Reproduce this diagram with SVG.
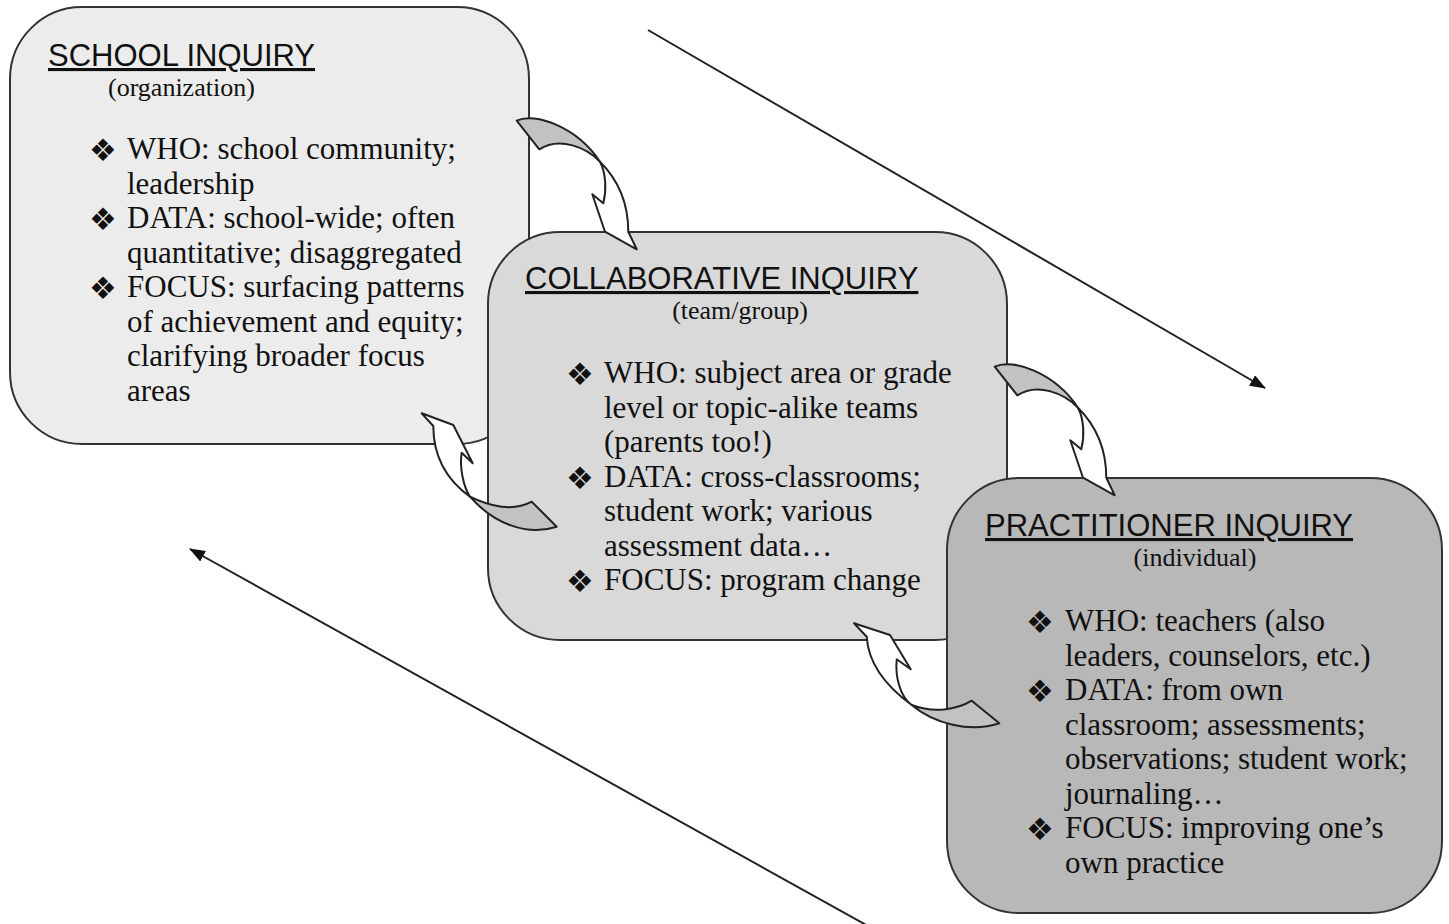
<svg xmlns="http://www.w3.org/2000/svg" width="1449" height="924" viewBox="0 0 1449 924">
  <style>
    .box { stroke: #333; stroke-width: 2; }
    .title { font-family: "Liberation Sans", Arial, sans-serif; font-size: 31px; fill: #111; text-decoration: underline; }
    .sub { font-family: "Liberation Serif", "Times New Roman", serif; font-size: 26px; fill: #111; }
    .body { font-family: "Liberation Serif", "Times New Roman", serif; font-size: 31px; fill: #111; }
    .bul { font-family: "DejaVu Sans", sans-serif; font-size: 31px; fill: #111; }
    .flow { stroke: #222; stroke-width: 2; fill: none; }
    .ribbon { stroke: #222; stroke-width: 2; stroke-linejoin: round; }
    .front { fill: #ffffff; }
    .back { fill: #c2c2c2; }
  </style>
  <defs>
    <marker id="head" viewBox="0 0 16 12" refX="15" refY="6" markerWidth="16" markerHeight="12" markerUnits="userSpaceOnUse" orient="auto">
      <path d="M0,0 L16,6 L0,12 Z" fill="#111"/>
    </marker>
  </defs>
  <rect width="1449" height="924" fill="#ffffff"/>

  <!-- school level -->
  <g id="school-inquiry">
    <rect class="box" x="10" y="7" width="519" height="437" rx="72" ry="72" fill="#ececec"/>
    <text class="title" x="48" y="66">SCHOOL INQUIRY</text>
    <text class="sub" x="108" y="96">(organization)</text>
    <text class="bul" x="89" y="161">❖</text>
    <text class="bul" x="89" y="230">❖</text>
    <text class="bul" x="89" y="299">❖</text>
    <text class="body" x="127" y="159">WHO: school community;</text>
    <text class="body" x="127" y="194">leadership</text>
    <text class="body" x="127" y="228">DATA: school-wide; often</text>
    <text class="body" x="127" y="263">quantitative; disaggregated</text>
    <text class="body" x="127" y="297">FOCUS: surfacing patterns</text>
    <text class="body" x="127" y="332">of achievement and equity;</text>
    <text class="body" x="127" y="366">clarifying broader focus</text>
    <text class="body" x="127" y="401">areas</text>
  </g>

  <!-- team level -->
  <g id="collaborative-inquiry">
    <rect class="box" x="488" y="232" width="519" height="408" rx="72" ry="72" fill="#d9d9d9"/>
    <text class="title" x="525" y="289">COLLABORATIVE INQUIRY</text>
    <text class="sub" x="740" y="319" text-anchor="middle">(team/group)</text>
    <text class="bul" x="566" y="385">❖</text>
    <text class="bul" x="566" y="489">❖</text>
    <text class="bul" x="566" y="592">❖</text>
    <text class="body" x="604" y="383">WHO: subject area or grade</text>
    <text class="body" x="604" y="418">level or topic-alike teams</text>
    <text class="body" x="604" y="452">(parents too!)</text>
    <text class="body" x="604" y="487">DATA: cross-classrooms;</text>
    <text class="body" x="604" y="521">student work; various</text>
    <text class="body" x="604" y="556">assessment data…</text>
    <text class="body" x="604" y="590">FOCUS: program change</text>
  </g>

  <!-- individual level -->
  <g id="practitioner-inquiry">
    <rect class="box" x="947" y="478" width="495" height="435" rx="72" ry="72" fill="#b8b8b8"/>
    <text class="title" x="985" y="536">PRACTITIONER INQUIRY</text>
    <text class="sub" x="1195" y="566" text-anchor="middle">(individual)</text>
    <text class="bul" x="1026" y="633">❖</text>
    <text class="bul" x="1026" y="702">❖</text>
    <text class="bul" x="1026" y="840">❖</text>
    <text class="body" x="1065" y="631">WHO: teachers (also</text>
    <text class="body" x="1065" y="666">leaders, counselors, etc.)</text>
    <text class="body" x="1065" y="700">DATA: from own</text>
    <text class="body" x="1065" y="735">classroom; assessments;</text>
    <text class="body" x="1065" y="769">observations; student work;</text>
    <text class="body" x="1065" y="804">journaling…</text>
    <text class="body" x="1065" y="838">FOCUS: improving one’s</text>
    <text class="body" x="1065" y="873">own practice</text>
  </g>

  <g id="connectors">
    <!-- overall direction lines -->
    <line class="flow" x1="648" y1="30" x2="1265" y2="388" marker-end="url(#head)"/>
    <line class="flow" x1="868" y1="926" x2="190" y2="549" marker-end="url(#head)"/>

    <!-- twisted ribbon arrows: school -> team, team -> individual -->
    <g id="ribbon-down-1">
      <path class="ribbon back" d="M516.7,120.7 C535,112 577,127 600,161.7 C587,148 560,136 539.3,149.3 Z"/>
      <path class="ribbon front" d="M600,161.7 C616.7,178.3 628.3,200 628.3,231.7 L636.7,249.3 L605,231.7 L592.3,194.3 L603.3,203.3 C606.7,190 606,173.3 600,161.7 Z"/>
    </g>
    <g id="ribbon-down-2" transform="translate(478 246)">
      <path class="ribbon back" d="M516.7,120.7 C535,112 577,127 600,161.7 C587,148 560,136 539.3,149.3 Z"/>
      <path class="ribbon front" d="M600,161.7 C616.7,178.3 628.3,200 628.3,231.7 L636.7,249.3 L605,231.7 L592.3,194.3 L603.3,203.3 C606.7,190 606,173.3 600,161.7 Z"/>
    </g>

    <!-- ribbon arrows back up: team -> school, individual -> team -->
    <g id="ribbon-up-1">
      <path class="ribbon back" d="M470,496.7 C493.3,523.3 526.7,536.7 556.7,526.7 L531.7,501.7 C513.3,511.7 490,506.7 470,496.7 Z"/>
      <path class="ribbon front" d="M470,496.7 C446.7,480 433.3,456.7 433.3,426 L421.7,413.3 L453.3,425 L472.7,463.3 L461.7,452.7 C459.3,466.7 463.3,486.7 470,496.7 Z"/>
    </g>
    <g id="ribbon-up-2">
      <path class="ribbon back" d="M911.7,705 C933.3,723.3 970,733.3 999.3,723.3 L971.7,700.7 C956.7,710 933.3,713.3 911.7,705 Z"/>
      <path class="ribbon front" d="M911.7,705 C886.7,686.7 868.3,663.3 866.7,636.7 L854,623.3 L890,635 L910.7,669.3 L896.7,659.3 C895,676.7 900,696.7 911.7,705 Z"/>
    </g>
  </g>
</svg>
